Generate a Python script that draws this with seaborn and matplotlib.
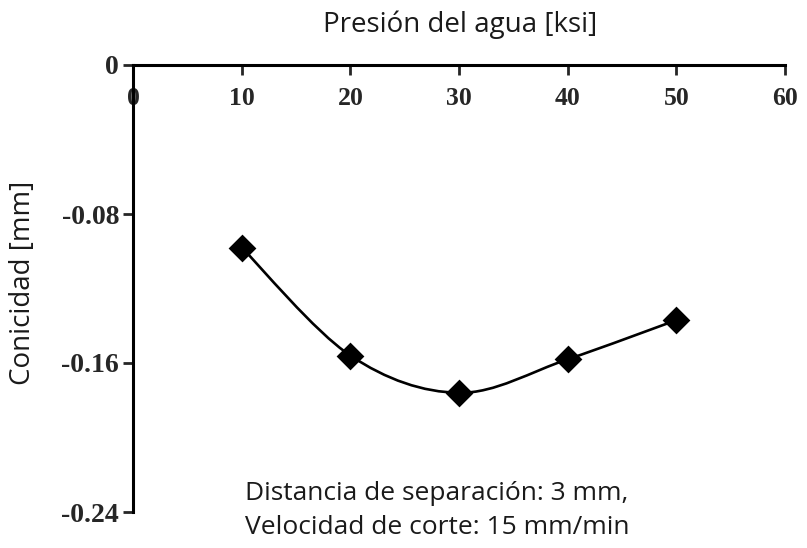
import numpy as np
import matplotlib
matplotlib.use("Agg")
import matplotlib.pyplot as plt
from matplotlib.path import Path
from matplotlib.patches import PathPatch
import seaborn as sns
import pandas as pd

# Data
presion = [10, 20, 30, 40, 50]
conicidad = [-0.098, -0.156, -0.176, -0.158, -0.137]
xticks = [0, 10, 20, 30, 40, 50, 60]
yticks = [0, -0.08, -0.16, -0.24]
ytick_labels = ["0", "-0.08", "-0.16", "-0.24"]

sns.set_style("white")
plt.rcParams["font.family"] = ["Open Sans", "DejaVu Sans"]

fig = plt.figure(figsize=(8.07, 5.48), dpi=100)
ax = fig.add_axes([133/807, 1-512/548, (785-133)/807, (512-65)/548])

df = pd.DataFrame({"x": presion, "y": conicidad})

# smoothed line (Bezier through the points, like a spreadsheet "smoothed line")
P = np.column_stack([presion, conicidad]).astype(float)
ext = np.vstack([P[0], P, P[-1]])
verts = [tuple(P[0])]
codes = [Path.MOVETO]
for i in range(len(P) - 1):
    p0, p1, p2, p3 = ext[i], ext[i+1], ext[i+2], ext[i+3]
    c1 = p1 + (p2 - p0) / 6.0
    c2 = p2 - (p3 - p1) / 6.0
    verts += [tuple(c1), tuple(c2), tuple(p2)]
    codes += [Path.CURVE4] * 3
ax.add_patch(PathPatch(Path(verts, codes), facecolor="none", edgecolor="black", lw=1.9, zorder=2))

sns.scatterplot(data=df, x="x", y="y", marker="D", s=200, color="black",
                edgecolor="black", linewidth=0, ax=ax, zorder=3)

ax.set_xlim(0, 60)
ax.set_ylim(-0.24, 0)
ax.set_xticks(xticks)
ax.set_yticks(yticks)
ax.set_yticklabels(ytick_labels)

for s in ["right", "bottom"]:
    ax.spines[s].set_visible(False)
for s in ["left", "top"]:
    ax.spines[s].set_linewidth(2.2)
    ax.spines[s].set_color("black")

ax.xaxis.set_ticks_position("top")
ax.tick_params(axis="x", which="major", direction="in", length=7, width=2,
               top=True, bottom=False, labeltop=True, labelbottom=False, pad=-16)
ax.tick_params(axis="y", which="major", direction="out", length=7, width=2,
               left=True, labelleft=True, pad=3)
for lab in ax.get_xticklabels():
    lab.set_va("top")
    lab.set_fontfamily(["Liberation Serif"])
    lab.set_fontweight("bold")
    lab.set_fontsize(18.5)
for lab in ax.get_yticklabels():
    lab.set_fontfamily(["Liberation Serif"])
    lab.set_fontweight("bold")
    lab.set_fontsize(20)

ax.set_xlabel("Presión del agua [ksi]", fontsize=20, color="#1a1a1a")
ax.xaxis.set_label_position("top")
ax.xaxis.label.set_va("center")
ax.xaxis.set_label_coords(0.502, 1.0895)
ax.set_ylabel("Conicidad [mm]", fontsize=20, color="#1a1a1a")
ax.yaxis.label.set_va("center")
ax.yaxis.set_label_coords(-0.168, 0.512)

fig.text(437/807, 1-493/548, "Distancia de separación: 3 mm,", ha="center", va="center",
         fontsize=19, color="#1a1a1a")
fig.text(437/807, 1-528/548, "Velocidad de corte: 15 mm/min", ha="center", va="center",
         fontsize=19, color="#1a1a1a")

fig.savefig("out.png", dpi=100)
